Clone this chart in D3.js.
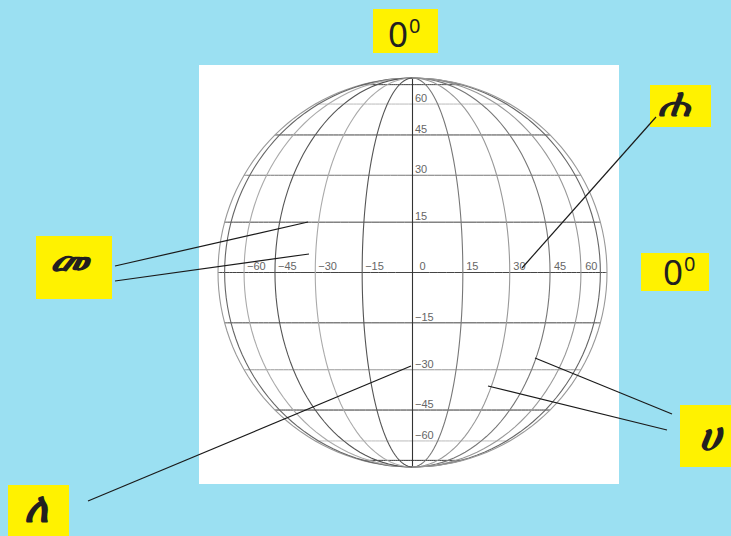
<!DOCTYPE html>
<html>
<head>
<meta charset="utf-8">
<script src="https://cdn.jsdelivr.net/npm/d3@7"></script>
<style>
  html, body { margin: 0; padding: 0; background: #9be0f2; }
  svg { display: block; }
  text { font-family: "Noto Sans", "DejaVu Sans", sans-serif; }
</style>
</head>
<body>
<script>
'use strict';

// Data Inputs
const lonTicks = [-60, -45, -30, -15, 0, 15, 30, 45, 60];
const latTicks = [60, 45, 30, 15, -15, -30, -45, -60];

const meridians = [-90, -75, -60, -45, -30, -15, 0, 15, 30, 45, 60, 75, 90];
const meridianShade = ['#999', '#666', '#aaa', '#555', '#aaa', '#555', '#333', '#777', '#999', '#777', '#999', '#666', '#999'];
const parallels = [75, 60, 45, 30, 15, 0, -15, -30, -45, -60, -75];
const parallelShade = ['#444', '#bbb', '#444', '#777', '#444', '#444', '#444', '#999', '#333', '#bbb', '#333'];

const letters = ['መ', 'ሐ', 'ሀ', 'ለ'];

const w = 731,
      h = 536;

const svg = d3.select('body').append('svg')
    .attr('width', w)
    .attr('height', h);

svg.append('rect').attr('width', w).attr('height', h).attr('fill', '#9be0f2');
svg.append('rect')
    .attr('x', 199).attr('y', 65)
    .attr('width', 420).attr('height', 419)
    .attr('fill', '#fff');

const projection = d3.geoOrthographic()
    .scale(194.5)
    .translate([412.5, 272.5])
    .rotate([0, 0])
    .clipAngle(90.01)
    .precision(0.2);

const path = d3.geoPath(projection);

// graticule
const lineSteps = d3.range(-90, 90.5, 2.5);

svg.selectAll('path.parallel')
    .data(parallels)
    .enter()
    .append('path')
    .attr('class', 'parallel')
    .attr('fill', 'none')
    .attr('stroke', (d, i) => parallelShade[i])
    .attr('stroke-width', 1)
    .attr('d', d => path({type: 'LineString', coordinates: lineSteps.map(x => [x, d])}));

svg.selectAll('path.meridian')
    .data(meridians)
    .enter()
    .append('path')
    .attr('class', 'meridian')
    .attr('fill', 'none')
    .attr('stroke', (d, i) => meridianShade[i])
    .attr('stroke-width', 1.1)
    .attr('d', d => path({type: 'LineString', coordinates: lineSteps.map(y => [d, y])}));

// tick labels
const fmt = d => (d < 0 ? '\u2212' + (-d) : '' + d);

svg.selectAll('text.lon')
    .data(lonTicks)
    .enter()
    .append('text')
    .attr('class', 'lon')
    .attr('x', d => projection([d, 0])[0] + (d < 0 ? 3 : 3 + d * 0.02 + (d === 0 ? 4 : 0)))
    .attr('y', projection([0, 0])[1] - 3)
    .attr('font-size', 11)
    .attr('fill', '#666')
    .style('font-family', '"Liberation Sans", sans-serif')
    .text(fmt);

svg.selectAll('text.lat')
    .data(latTicks)
    .enter()
    .append('text')
    .attr('class', 'lat')
    .attr('x', 415)
    .attr('y', d => projection([0, d])[1] - 2)
    .attr('font-size', 11)
    .attr('fill', '#666')
    .style('font-family', '"Liberation Sans", sans-serif')
    .text(fmt);

// yellow boxes
const boxes = [
    {x: 373, y: 9, w: 65, h: 44},
    {x: 641, y: 253, w: 68, h: 38},
    {x: 36, y: 236, w: 76, h: 63},
    {x: 650, y: 85, w: 61, h: 42},
    {x: 680, y: 405, w: 51, h: 62},
    {x: 8, y: 485, w: 61, h: 51}
];

svg.selectAll('rect.box')
    .data(boxes)
    .enter()
    .append('rect')
    .attr('class', 'box')
    .attr('x', d => d.x).attr('y', d => d.y)
    .attr('width', d => d.w).attr('height', d => d.h)
    .attr('fill', '#fff200');

// callout leaders, on top of the boxes
const leaders = [
    [115, 266, 308, 222],
    [115, 281, 309, 254],
    [656, 117, 522, 268],
    [672, 414, 535, 358],
    [667, 430, 488, 386],
    [88, 501, 411, 366]
];

svg.selectAll('line.leader')
    .data(leaders)
    .enter()
    .append('line')
    .attr('class', 'leader')
    .attr('x1', d => d[0]).attr('y1', d => d[1])
    .attr('x2', d => d[2]).attr('y2', d => d[3])
    .attr('stroke', '#1a1a1a')
    .attr('stroke-width', 1.2);

// 0 degree labels
const zeroAnchors = [[388, 47], [663, 285]];

zeroAnchors.forEach(a => {
    const t = svg.append('text')
        .attr('x', a[0]).attr('y', a[1])
        .attr('font-size', 35)
        .attr('fill', '#231f20');
    t.append('tspan').text('0');
    t.append('tspan').attr('font-size', 20).attr('dy', -14).attr('dx', 1).text('0');
});

// ethiopic letters
const letterAnchors = [[69, 275], [674, 116], [710, 450], [36, 522]];
const letterSizes = [44, 40, 42, 42];

svg.selectAll('text.letter')
    .data(letters)
    .enter()
    .append('text')
    .attr('class', 'letter')
    .attr('x', (d, i) => letterAnchors[i][0])
    .attr('y', (d, i) => letterAnchors[i][1])
    .attr('text-anchor', 'middle')
    .attr('font-size', (d, i) => letterSizes[i])
    .attr('font-style', 'italic')
    .attr('font-weight', 'bold')
    .attr('fill', '#231f20')
    .text(d => d);
</script>
</body>
</html>
